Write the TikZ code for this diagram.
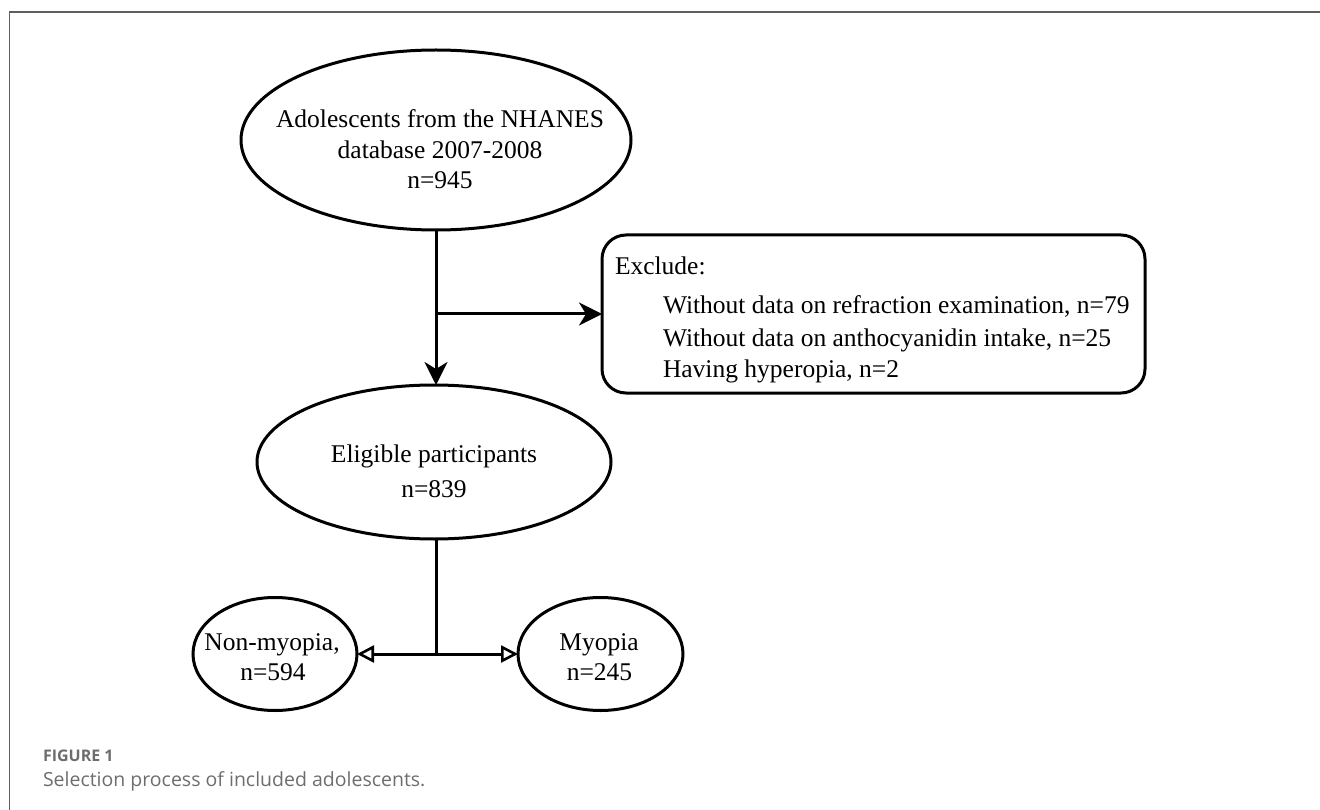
\documentclass[tikz,border=0pt]{standalone}
\usepackage{fontspec}
\setmainfont{Liberation Serif}
\newfontfamily\capfont{Open Sans}
\usetikzlibrary{shapes.geometric,arrows.meta}
\definecolor{framegray}{HTML}{5E5E5E}
\definecolor{capgray}{HTML}{6D6D6D}
\begin{document}
\begin{tikzpicture}[x=1pt,y=-1pt,
  every node/.style={inner sep=0pt, outer sep=0pt},
  oval/.style={draw=black, line width=3pt, ellipse},
  exbox/.style={draw=black, line width=3pt, rounded corners=24pt, rectangle},
  txt/.style={font=\fontsize{25.5}{30}\selectfont, anchor=base},
  ltxt/.style={font=\fontsize{25.5}{30}\selectfont, anchor=base west},
  flow/.style={line width=3pt, -{Stealth[length=23pt,width=23pt,inset=7pt]}},
  split/.style={line width=3pt, -{Triangle[open,length=17pt,width=17pt,line width=2.6pt]}},
  capt/.style={anchor=base west, text=capgray}
]
\useasboundingbox (0,0) rectangle (1320,810);
\draw[framegray, line width=1.5pt] (1320,12) -- (9.5,12) -- (9.5,810);

% nodes
\node[oval, minimum width=390pt, minimum height=180pt] (e1) at (436,140) {};
\node[txt] (e1a) at (440,128) {Adolescents from the NHANES};
\node[txt] (e1b) at (440,159) {database 2007-2008};
\node[txt] (e1c) at (440,189) {n=945};

\node[exbox, minimum width=543pt, minimum height=158pt] (ex) at (873.5,314) {};
\node[ltxt] (exh) at (615,275) {Exclude:};
\node[ltxt] (ex1) at (663,314) {Without data on refraction examination, n=79};
\node[ltxt] (ex2) at (663,346) {Without data on anthocyanidin intake, n=25};
\node[ltxt] (ex3) at (663,377) {Having hyperopia, n=2};

\node[oval, minimum width=354pt, minimum height=154pt] (e2) at (434,462) {};
\node[txt] (e2a) at (434,462) {Eligible participants};
\node[txt] (e2b) at (434,497) {n=839};

\node[oval, minimum width=164pt, minimum height=113pt] (e3) at (275,654) {};
\node[txt] (e3a) at (272,650) {Non-myopia,};
\node[txt] (e3b) at (273,680) {n=594};

\node[oval, minimum width=165pt, minimum height=113pt] (e4) at (600.5,654) {};
\node[txt] (e4a) at (599,650) {Myopia};
\node[txt] (e4b) at (599.5,680) {n=245};

% connectors
\coordinate (j1) at (436,314);
\coordinate (j2) at (436,654);
\draw[flow] (e1.south -| j1) -- (e2.north -| j1);
\draw[flow] (j1) -- (ex.west);
\draw[line width=3pt] (e2.south -| j2) -- (j2);
\draw[split] (j2) -- (e3.east);
\draw[split] (j2) -- (e4.west);

% caption
\node[capt, font=\capfont\bfseries\fontsize{16}{19}\selectfont] (fig) at (43,761) {FIGURE 1};
\node[capt, font=\capfont\fontsize{19.5}{23}\selectfont] (cap) at (43,786) {Selection process of included adolescents.};
\end{tikzpicture}
\end{document}
